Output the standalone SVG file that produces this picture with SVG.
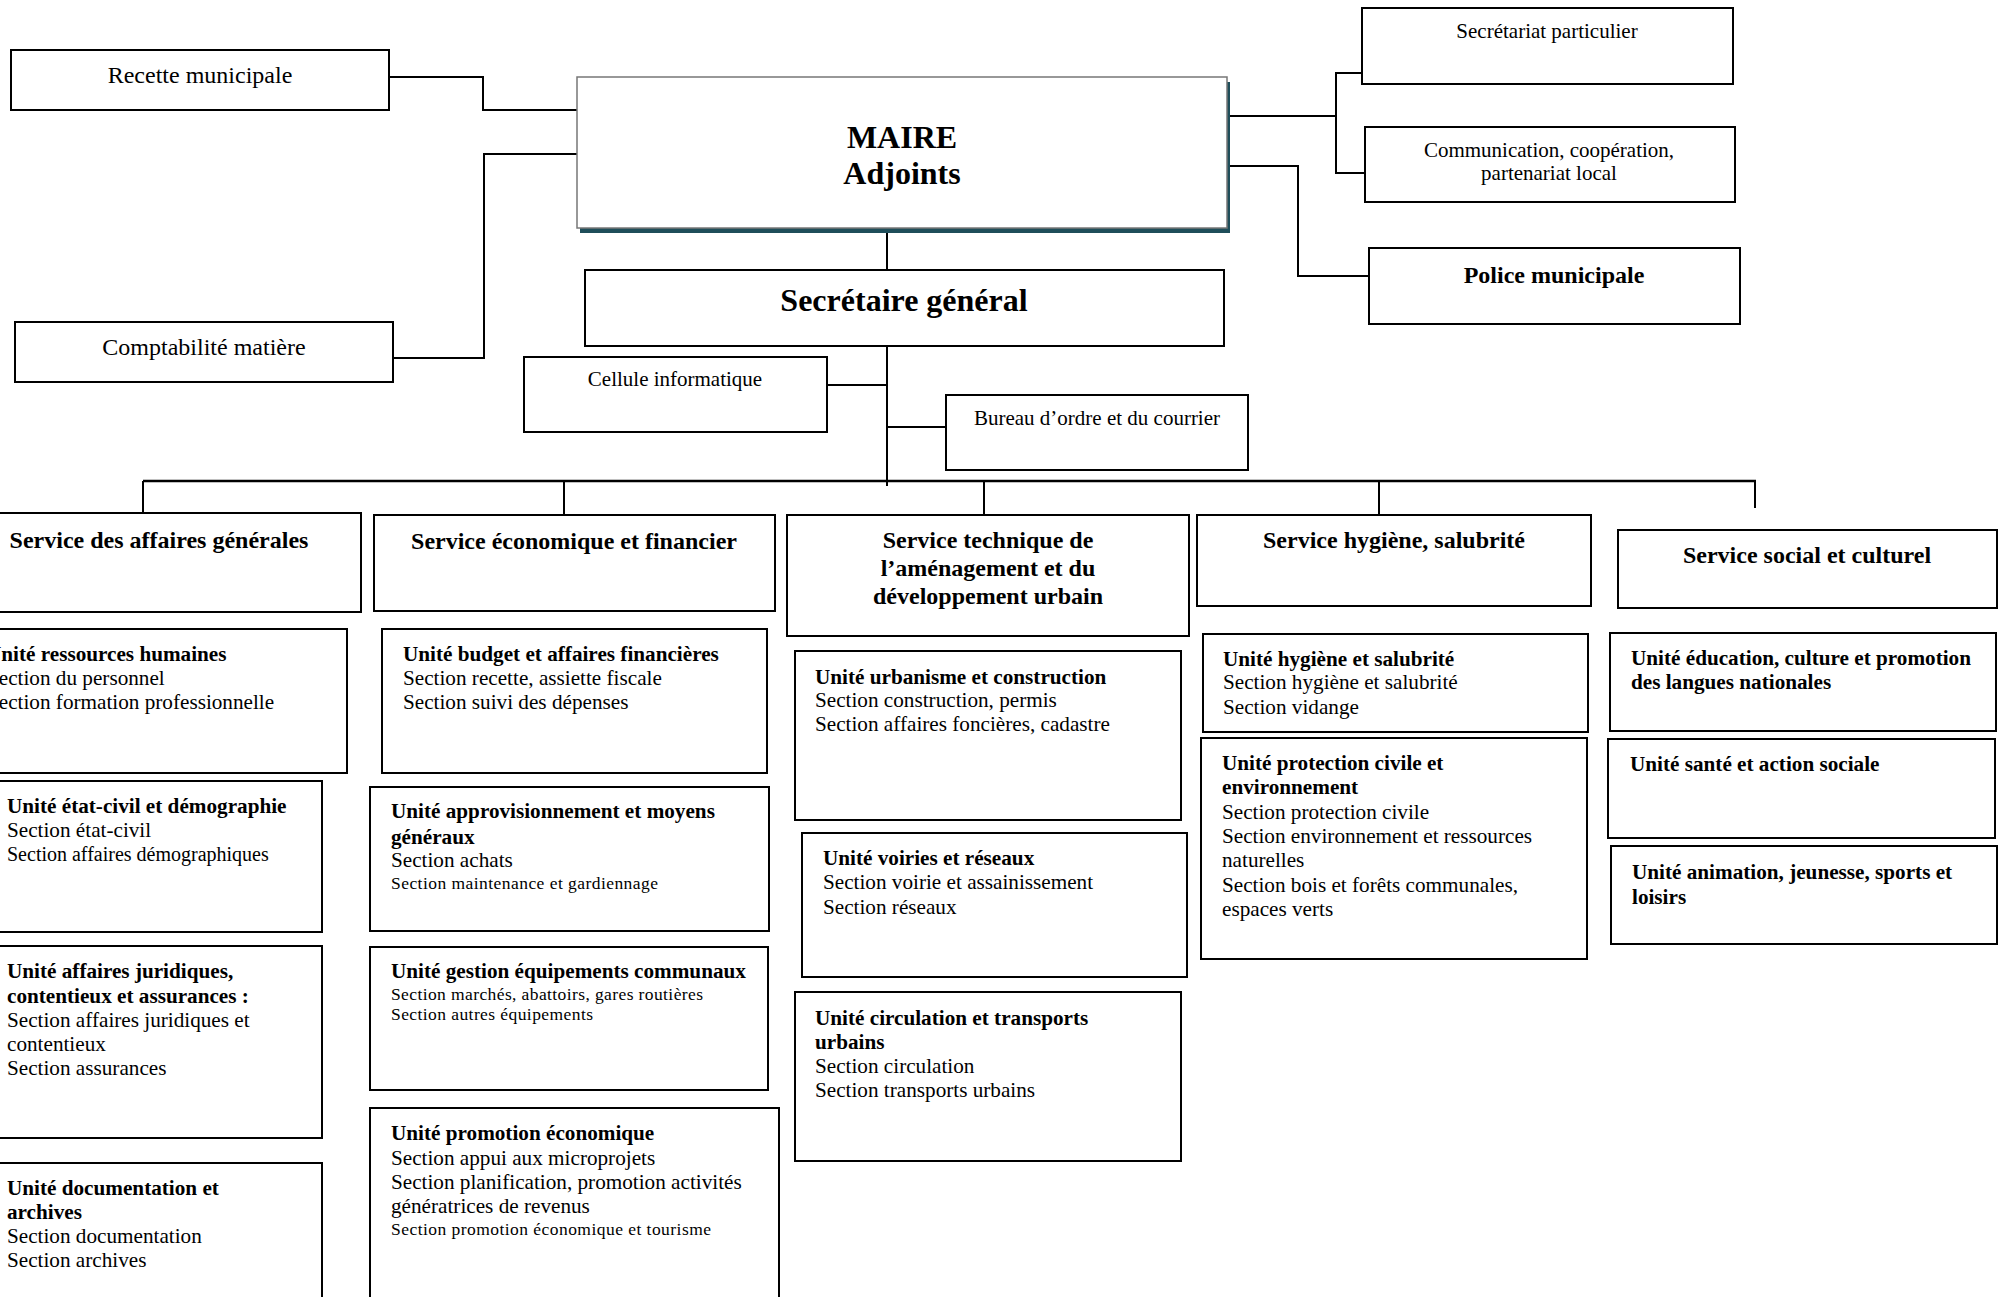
<svg xmlns="http://www.w3.org/2000/svg" width="1999" height="1297" viewBox="0 0 1999 1297">
<style>
.box{fill:#fff;stroke:#000;stroke-width:2}
.t{font-family:"Liberation Serif","Times New Roman",serif;fill:#000}
.b{font-weight:bold}
.m{text-anchor:middle}
.s17{font-size:17.5px}
.s20{font-size:21.2px}
.s21{font-size:21px}
.s24{font-size:24px}
.s32{font-size:32px}
.ln{fill:none;stroke:#000;stroke-width:2}
.bus{fill:none;stroke:#000;stroke-width:2.5}
</style>
<rect x="0" y="0" width="1999" height="1297" fill="#fff"/>
<g id="connectors">
<path class="ln" d="M389,77 H483 V110 H578"/>
<path class="ln" d="M393,358 H484 V154 H577"/>
<path class="ln" d="M1224,116 H1336 M1336,73 V173 M1335,73 H1363 M1335,173 H1366"/>
<path class="ln" d="M1226,166 H1298 V276 H1369"/>
<path class="ln" d="M887,230 V270"/>
<path class="ln" d="M887,346 V486"/>
<path class="ln" d="M827,385 H887"/>
<path class="ln" d="M887,427 H946"/>
<path class="bus" d="M143,481 H1756"/>
<path class="ln" d="M143,481 V513 M564,481 V515 M984,481 V515 M1379,481 V515 M1755,481 V508"/>
</g>
<g id="recette"><rect class="box" x="11" y="50" width="378" height="60"/><text class="t s24 m" x="200" y="83">Recette municipale</text></g>
<g id="comptabilite"><rect class="box" x="15" y="322" width="378" height="60"/><text class="t s24 m" x="204" y="355">Comptabilité matière</text></g>
<g id="maire"><rect x="580" y="82" width="650" height="151" fill="#1f4e5a"/><rect x="577" y="77" width="650" height="151" fill="#fff" stroke="#777" stroke-width="1.5"/><text class="t b s32 m" x="902" y="148">MAIRE</text><text class="t b s32 m" x="902" y="184">Adjoints</text></g>
<g id="sg"><rect class="box" x="585" y="270" width="639" height="76"/><text class="t b s32 m" x="904" y="311">Secrétaire général</text></g>
<g id="secpart"><rect class="box" x="1362" y="8" width="371" height="76"/><text class="t s21 m" x="1547" y="38">Secrétariat particulier</text></g>
<g id="comm"><rect class="box" x="1365" y="127" width="370" height="75"/><text class="t s21 m" x="1549" y="157">Communication, coopération,</text><text class="t s21 m" x="1549" y="180">partenariat local</text></g>
<g id="police"><rect class="box" x="1369" y="248" width="371" height="76"/><text class="t b s24 m" x="1554" y="283">Police municipale</text></g>
<g id="cellule"><rect class="box" x="524" y="357" width="303" height="75"/><text class="t s21 m" x="675" y="386">Cellule informatique</text></g>
<g id="bureau"><rect class="box" x="946" y="395" width="302" height="75"/><text class="t s21 m" x="1097" y="425">Bureau d’ordre et du courrier</text></g>

<g id="svc-ag"><rect class="box" x="-43" y="513" width="404" height="99"/><text class="t b s24 m" x="159" y="548">Service des affaires générales</text></g>
<g id="svc-ef"><rect class="box" x="374" y="515" width="401" height="96"/><text class="t b s24 m" x="574" y="549">Service économique et financier</text></g>
<g id="svc-tech"><rect class="box" x="787" y="515" width="402" height="121"/><text class="t b s24 m" x="988" y="548">Service technique de</text><text class="t b s24 m" x="988" y="576">l’aménagement et du</text><text class="t b s24 m" x="988" y="604">développement urbain</text></g>
<g id="svc-hyg"><rect class="box" x="1197" y="515" width="394" height="91"/><text class="t b s24 m" x="1394" y="548">Service hygiène, salubrité</text></g>
<g id="svc-soc"><rect class="box" x="1618" y="530" width="379" height="78"/><text class="t b s24 m" x="1807" y="563">Service social et culturel</text></g>

<g id="u-rh"><rect class="box" x="-50" y="629" width="397" height="144"/><text class="t b s20" x="-14" y="661">Unité ressources humaines</text><text class="t s20" x="-13" y="685">Section du personnel</text><text class="t s20" x="-13" y="709">Section formation professionnelle</text></g>
<g id="u-ec"><rect class="box" x="-50" y="781" width="372" height="151"/><text class="t b s20" x="7" y="813">Unité état-civil et démographie</text><text class="t s20" x="7" y="837">Section état-civil</text><text class="t" font-size="20" x="7" y="861">Section affaires démographiques</text></g>
<g id="u-jur"><rect class="box" x="-50" y="946" width="372" height="192"/><text class="t b s20" x="7" y="978">Unité affaires juridiques,</text><text class="t b s20" x="7" y="1003">contentieux et assurances :</text><text class="t s20" x="7" y="1027">Section affaires juridiques et</text><text class="t s20" x="7" y="1051">contentieux</text><text class="t s20" x="7" y="1075">Section assurances</text></g>
<g id="u-doc"><rect class="box" x="-50" y="1163" width="372" height="200"/><text class="t b s20" x="7" y="1195">Unité documentation et</text><text class="t b s20" x="7" y="1219">archives</text><text class="t s20" x="7" y="1243">Section documentation</text><text class="t s20" x="7" y="1267">Section archives</text></g>

<g id="u-budget"><rect class="box" x="382" y="629" width="385" height="144"/><text class="t b s20" x="403" y="661">Unité budget et affaires financières</text><text class="t s20" x="403" y="685">Section recette, assiette fiscale</text><text class="t s20" x="403" y="709">Section suivi des dépenses</text></g>
<g id="u-appro"><rect class="box" x="370" y="787" width="399" height="144"/><text class="t b s20" x="391" y="818">Unité approvisionnement et moyens</text><text class="t b s20" x="391" y="844">généraux</text><text class="t s20" x="391" y="867">Section achats</text><text class="t s17" x="391" y="889" textLength="267" lengthAdjust="spacing">Section maintenance et gardiennage</text></g>
<g id="u-gest"><rect class="box" x="370" y="947" width="398" height="143"/><text class="t b s20" x="391" y="978">Unité gestion équipements communaux</text><text class="t s17" x="391" y="1000" textLength="312" lengthAdjust="spacing">Section marchés, abattoirs, gares routières</text><text class="t s17" x="391" y="1020" textLength="202" lengthAdjust="spacing">Section autres équipements</text></g>
<g id="u-promo"><rect class="box" x="370" y="1108" width="409" height="250"/><text class="t b s20" x="391" y="1140">Unité promotion économique</text><text class="t s20" x="391" y="1165">Section appui aux microprojets</text><text class="t s20" x="391" y="1189">Section planification, promotion activités</text><text class="t s20" x="391" y="1213">génératrices de revenus</text><text class="t s17" x="391" y="1235" textLength="320" lengthAdjust="spacing">Section promotion économique et tourisme</text></g>

<g id="u-urb"><rect class="box" x="795" y="651" width="386" height="169"/><text class="t b s20" x="815" y="684">Unité urbanisme et construction</text><text class="t s20" x="815" y="707">Section construction, permis</text><text class="t s20" x="815" y="731">Section affaires foncières, cadastre</text></g>
<g id="u-voir"><rect class="box" x="802" y="833" width="385" height="144"/><text class="t b s20" x="823" y="865">Unité voiries et réseaux</text><text class="t s20" x="823" y="889">Section voirie et assainissement</text><text class="t s20" x="823" y="914">Section réseaux</text></g>
<g id="u-circ"><rect class="box" x="795" y="992" width="386" height="169"/><text class="t b s20" x="815" y="1025">Unité circulation et transports</text><text class="t b s20" x="815" y="1049">urbains</text><text class="t s20" x="815" y="1073">Section circulation</text><text class="t s20" x="815" y="1097">Section transports urbains</text></g>

<g id="u-hyg"><rect class="box" x="1203" y="634" width="385" height="98"/><text class="t b s20" x="1223" y="666">Unité hygiène et salubrité</text><text class="t s20" x="1223" y="689">Section hygiène et salubrité</text><text class="t s20" x="1223" y="714">Section vidange</text></g>
<g id="u-prot"><rect class="box" x="1201" y="738" width="386" height="221"/><text class="t b s20" x="1222" y="770">Unité protection civile et</text><text class="t b s20" x="1222" y="794">environnement</text><text class="t s20" x="1222" y="819">Section protection civile</text><text class="t s20" x="1222" y="843">Section environnement et ressources</text><text class="t s20" x="1222" y="867">naturelles</text><text class="t s20" x="1222" y="892">Section bois et forêts communales,</text><text class="t s20" x="1222" y="916">espaces verts</text></g>

<g id="u-edu"><rect class="box" x="1610" y="633" width="386" height="98"/><text class="t b s20" x="1631" y="665">Unité éducation, culture et promotion</text><text class="t b s20" x="1631" y="689">des langues nationales</text></g>
<g id="u-sante"><rect class="box" x="1608" y="739" width="387" height="99"/><text class="t b s20" x="1630" y="771">Unité santé et action sociale</text></g>
<g id="u-anim"><rect class="box" x="1611" y="846" width="386" height="98"/><text class="t b s20" x="1632" y="879">Unité animation, jeunesse, sports et</text><text class="t b s20" x="1632" y="904">loisirs</text></g>
</svg>
